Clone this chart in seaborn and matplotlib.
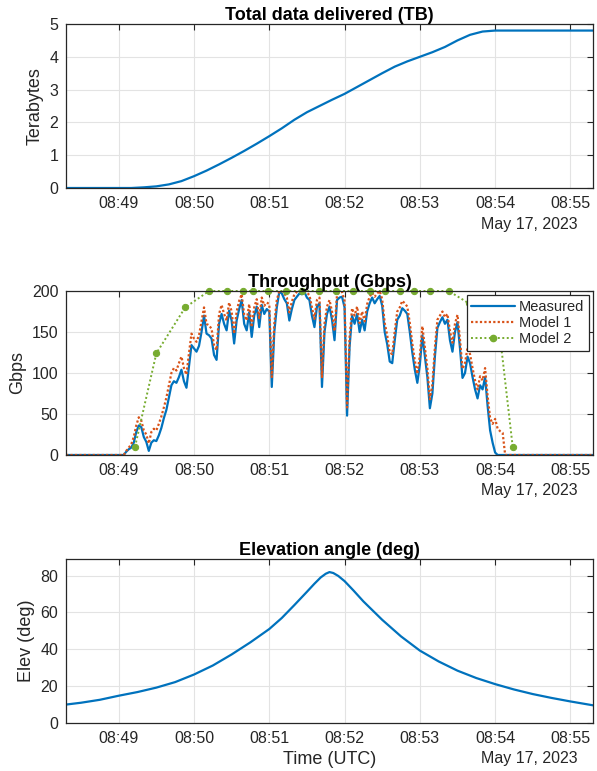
import numpy as np
import pandas as pd
import matplotlib
matplotlib.use("Agg")
import matplotlib.pyplot as plt
import matplotlib.dates as mdates
from matplotlib.lines import Line2D
import seaborn as sns

DAY = "2023-05-17"
T_START = "08:48:18"
T_END = "08:55:18"

# Cumulative data delivered (TB)
total_times = ["08:48:18", "08:49:10", "08:49:20", "08:49:30", "08:49:40", "08:49:50",
               "08:50:00", "08:50:10", "08:50:20", "08:50:30", "08:50:40", "08:50:50",
               "08:51:00", "08:51:10", "08:51:20", "08:51:30", "08:51:40", "08:51:50",
               "08:52:00", "08:52:10", "08:52:20", "08:52:30", "08:52:40", "08:52:50",
               "08:53:00", "08:53:10", "08:53:20", "08:53:30", "08:53:40", "08:53:50",
               "08:54:00", "08:55:18"]
total_tb = [0.0, 0.0, 0.02, 0.05, 0.11, 0.21,
            0.36, 0.53, 0.72, 0.92, 1.13, 1.35,
            1.58, 1.82, 2.08, 2.31, 2.50, 2.69,
            2.87, 3.08, 3.29, 3.50, 3.70, 3.86,
            4.00, 4.14, 4.30, 4.50, 4.67, 4.77,
            4.80, 4.80]

# Throughput samples, every 2 s from 08:49:00 to 08:54:10 (Gbps)
thr_first = "08:49:00"
measured = [0, 0, 0, 4, 7, 9, 15, 28, 36, 34,
            22, 16, 5, 15, 18, 17, 24, 33, 45, 55,
            70, 85, 90, 88, 95, 104, 90, 82, 108, 134,
            130, 126, 133, 150, 170, 148, 146, 142, 122, 116,
            160, 172, 160, 152, 176, 164, 136, 164, 178, 189,
            160, 152, 174, 144, 170, 181, 156, 183, 172, 178,
            175, 83, 150, 180, 199, 197, 190, 185, 164, 178,
            189, 193, 197, 196, 199, 192, 189, 170, 156, 181,
            185, 83, 150, 172, 181, 165, 140, 189, 192, 193,
            180, 48, 132, 170, 160, 172, 150, 165, 152, 175,
            185, 192, 185, 190, 194, 182, 150, 135, 114, 112,
            140, 165, 170, 179, 176, 172, 150, 125, 104, 88,
            110, 146, 120, 95, 57, 75, 120, 155, 162, 168,
            160, 165, 140, 126, 150, 162, 130, 94, 100, 120,
            112, 95, 80, 69, 85, 80, 95, 60, 30, 15,
            3, 0, 0, 0, 0, 0]
model1 = [0, 0, 0, 5, 9, 13, 22, 36, 46, 42,
          30, 25, 14, 28, 32, 30, 38, 47, 58, 70,
          85, 100, 106, 103, 112, 120, 106, 98, 124, 148,
          142, 138, 146, 163, 180, 160, 158, 154, 134, 128,
          172, 183, 172, 164, 186, 175, 148, 175, 188, 196,
          171, 164, 184, 156, 180, 190, 167, 192, 182, 186,
          184, 95, 160, 189, 200, 200, 197, 192, 174, 187,
          196, 199, 200, 200, 200, 198, 195, 180, 166, 189,
          192, 95, 160, 181, 189, 175, 151, 196, 198, 199,
          188, 58, 143, 179, 170, 181, 161, 175, 163, 184,
          193, 198, 193, 197, 200, 190, 161, 146, 125, 123,
          151, 175, 180, 188, 185, 181, 161, 136, 115, 99,
          121, 157, 131, 106, 68, 86, 131, 165, 170, 175,
          168, 172, 151, 137, 160, 171, 141, 105, 112, 131,
          123, 106, 91, 80, 96, 91, 106, 72, 45, 38,
          44, 32, 29, 27, 0, 0]

model2_times = ["08:49:13", "08:49:30", "08:49:53", "08:50:12", "08:50:26", "08:50:39",
                "08:50:47", "08:50:59", "08:51:13", "08:51:26", "08:51:40", "08:51:53",
                "08:52:07", "08:52:20", "08:52:32", "08:52:44", "08:52:55", "08:53:08",
                "08:53:23", "08:53:39", "08:54:05", "08:54:14"]
model2 = [10, 124, 180, 200, 200, 200, 200, 200, 200, 200, 200, 200,
          200, 200, 200, 200, 200, 200, 200, 185, 130, 10]

# Elevation angle (deg)
elev_times = ["08:48:18", "08:48:30", "08:48:45", "08:49:00", "08:49:15", "08:49:30",
              "08:49:45", "08:50:00", "08:50:15", "08:50:30", "08:50:45", "08:51:00",
              "08:51:10", "08:51:20", "08:51:30", "08:51:36", "08:51:41", "08:51:45",
              "08:51:48", "08:51:51", "08:51:55", "08:52:00", "08:52:07", "08:52:15",
              "08:52:30", "08:52:45", "08:53:00", "08:53:15", "08:53:30", "08:53:45",
              "08:54:00", "08:54:15", "08:54:30", "08:54:45", "08:55:00", "08:55:18"]
elev_deg = [10.0, 11.0, 12.6, 14.8, 16.8, 19.2, 22.2, 26.3, 31.2, 37.2, 43.8, 51.0,
            57.0, 64.0, 71.2, 75.6, 79.0, 81.0, 81.9, 81.4, 79.8, 77.0, 72.0, 66.0,
            56.0, 47.0, 39.3, 33.4, 28.4, 24.4, 21.1, 18.2, 15.7, 13.6, 11.7, 9.6]

BLUE = "#0072BD"
ORANGE = "#D95319"
GREEN = "#77AC30"
INK = "#262626"

TICK_FS = 11.5
LABEL_FS = 13
LEGEND_FS = 10.5


def ts(hms_list):
    return pd.to_datetime([f"{DAY} {h}" for h in hms_list])


sns.set_theme(style="white")
plt.rcParams["font.family"] = ["Liberation Sans", "DejaVu Sans"]

total_df = pd.DataFrame({"time": ts(total_times), "tb": total_tb})

thr_idx = pd.date_range(f"{DAY} {thr_first}", periods=len(measured), freq="2s")
t_lo = pd.Timestamp(f"{DAY} {T_START}")
t_hi = pd.Timestamp(f"{DAY} {T_END}")
thr_df = pd.DataFrame({"time": [t_lo] + list(thr_idx) + [t_hi],
                       "measured": [0] + measured + [0],
                       "model1": [0] + model1 + [0]})
m2_df = pd.DataFrame({"time": ts(model2_times), "gbps": model2})
elev_df = pd.DataFrame({"time": ts(elev_times), "deg": elev_deg})

W, H = 597, 771
fig = plt.figure(figsize=(W / 100, H / 100), dpi=100)
left, right = 66, 593
tops = [24, 291, 559]
ax_h = 164
axes = [fig.add_axes([left / W, 1 - (top + ax_h) / H, (right - left) / W, ax_h / H])
        for top in tops]
ax1, ax2, ax3 = axes

title_kw = dict(fontsize=LABEL_FS, fontweight="bold", color="black", pad=3)

# Total data delivered
sns.lineplot(data=total_df, x="time", y="tb", ax=ax1, color=BLUE, lw=1.6)
ax1.set_ylim(0, 5)
ax1.set_yticks([0, 1, 2, 3, 4, 5])
ax1.set_ylabel("Terabytes", fontsize=LABEL_FS, color=INK)
ax1.set_title("Total data delivered (TB)", **title_kw)

# Throughput
sns.lineplot(data=thr_df, x="time", y="measured", ax=ax2, color=BLUE, lw=1.6)
sns.lineplot(data=thr_df, x="time", y="model1", ax=ax2, color=ORANGE, lw=1.6,
             linestyle=(0, (1, 1)))
sns.lineplot(data=m2_df, x="time", y="gbps", ax=ax2, color=GREEN, lw=1.4,
             linestyle=(0, (1, 1.3)), marker="o", markersize=4.5,
             markeredgecolor=GREEN, clip_on=False)
ax2.set_ylim(0, 200)
ax2.set_yticks([0, 50, 100, 150, 200])
ax2.set_ylabel("Gbps", fontsize=LABEL_FS, color=INK)
ax2.set_title("Throughput (Gbps)", **title_kw)
handles = [Line2D([], [], color=BLUE, lw=1.6),
           Line2D([], [], color=ORANGE, lw=1.6, linestyle=(0, (1, 1))),
           Line2D([], [], color=GREEN, lw=1.4, linestyle=(0, (1, 1.3)), marker="o",
                  markersize=4.5)]
leg = ax2.legend(handles, ["Measured", "Model 1", "Model 2"], loc="upper right",
                 fontsize=LEGEND_FS, frameon=True, fancybox=False, framealpha=1,
                 edgecolor=INK, borderaxespad=0.3, handlelength=3.0,
                 handletextpad=0.25, labelspacing=0.15, borderpad=0.3)
leg.get_frame().set_linewidth(0.9)
leg.set_zorder(10)

# Elevation
sns.lineplot(data=elev_df, x="time", y="deg", ax=ax3, color=BLUE, lw=1.6)
ax3.set_ylim(0, 89)
ax3.set_yticks([0, 20, 40, 60, 80])
ax3.set_ylabel("Elev (deg)", fontsize=LABEL_FS, color=INK)
ax3.set_title("Elevation angle (deg)", **title_kw)
ax3.set_xlabel("Time (UTC)", fontsize=LABEL_FS, color=INK)
ax3.xaxis.set_label_coords(0.5, -(759 - 723) / ax_h)
ax3.xaxis.label.set_va("center")

for ax in axes:
    ax.set_xlim(t_lo, t_hi)
    ax.xaxis.set_major_locator(mdates.MinuteLocator())
    ax.xaxis.set_major_formatter(mdates.DateFormatter("%H:%M"))
    ax.grid(True, color="#e3e3e3", lw=0.8)
    ax.set_axisbelow(True)
    ax.tick_params(direction="in", length=4, width=0.8, colors=INK,
                   labelsize=TICK_FS, top=True, right=True, labelcolor=INK, pad=5.5)
    for s in ax.spines.values():
        s.set_color(INK)
        s.set_linewidth(0.9)
    if ax is not ax3:
        ax.set_xlabel("")

# Date stamp under the right end of each time axis
for top in tops:
    fig.text(578 / W, 1 - (top + ax_h + 36) / H, "May 17, 2023", ha="right",
             va="center", fontsize=TICK_FS, color=INK)

fig.savefig("out.png", dpi=100)
